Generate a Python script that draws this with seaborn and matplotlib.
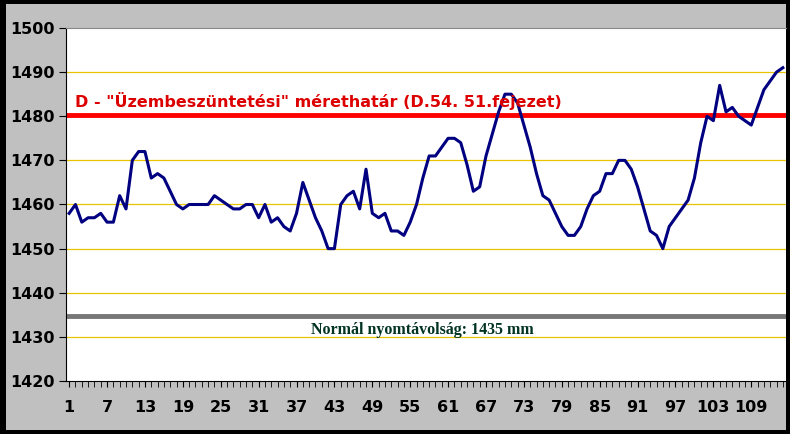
import matplotlib
matplotlib.use("Agg")
import matplotlib.pyplot as plt
import seaborn as sns
import pandas as pd
from matplotlib.patches import Rectangle
from matplotlib.ticker import MultipleLocator

values = [1458,1460,1456,1457,1457,1458,1456,1456,1462,1459,1470,1472,1472,1466,1467,1466,1463,1460,1459,1460,
          1460,1460,1460,1462,1461,1460,1459,1459,1460,1460,1457,1460,1456,1457,1455,1454,1458,1465,1461,1457,
          1454,1450,1450,1460,1462,1463,1459,1468,1458,1457,1458,1454,1454,1453,1456,1460,1466,1471,1471,1473,
          1475,1475,1474,1469,1463,1464,1471,1476,1481,1485,1485,1483,1478,1473,1467,1462,1461,1458,1455,1453,
          1453,1455,1459,1462,1463,1467,1467,1470,1470,1468,1464,1459,1454,1453,1450,1455,1457,1459,1461,1466,
          1474,1480,1479,1487,1481,1482,1480,1479,1478,1482,1486,1488,1490,1491]
positions = list(range(1, len(values) + 1))
x_ticks = list(range(1, 110, 6))
limit_value = 1480.3
normal_value = 1434.7
limit_label = 'D - "Üzembeszüntetési" mérethatár (D.54. 51.fejezet)'
normal_label = "Normál nyomtávolság: 1435 mm"

df = pd.DataFrame({"x": positions, "y": values})

fig = plt.figure(figsize=(7.9, 4.34), dpi=100, facecolor="black")
fig.patches.append(Rectangle((6/790, 4/434), 780/790, 426/434, transform=fig.transFigure,
                             facecolor="#c0c0c0", edgecolor="none", zorder=-5))
ax = fig.add_axes([66/790, 1 - 381/434, 720/790, 353/434])
ax.set_zorder(1)
ax.set_facecolor("white")
ax.set_xlim(0.5, 114.5)
ax.set_ylim(1420, 1500)
ax.set_yticks(range(1420, 1501, 10))
ax.set_xticks(x_ticks)
ax.xaxis.set_minor_locator(MultipleLocator(1))
for y in range(1430, 1500, 10):
    ax.axhline(y, color="#e8c400", lw=0.9, zorder=1)
ax.axhline(limit_value, color="#ff0000", lw=3.5, zorder=2)
ax.axhline(normal_value, color="#777777", lw=3.5, zorder=2)
sns.lineplot(data=df, x="x", y="y", ax=ax, color="#000080", lw=2.2, zorder=3)
ax.text(2, 1482.2, limit_label, color="#dd0000", fontsize=11.5, fontweight="bold", family="DejaVu Sans")
ax.text(57, 1431.5, normal_label, color="#003322", fontsize=11.5, fontweight="bold",
        family="Liberation Serif", ha="center", va="center")
ax.set_xlabel("")
ax.set_ylabel("")
ax.spines["right"].set_visible(False)
ax.spines["top"].set_color("#888888")
for s in ["left", "bottom"]:
    ax.spines[s].set_color("black")
ax.tick_params(axis="both", labelsize=11.5, colors="black", length=5)
ax.tick_params(axis="x", which="minor", length=4)
ax.tick_params(axis="x", which="major", length=4, pad=10)
for t in ax.get_xticklabels() + ax.get_yticklabels():
    t.set_fontweight("bold")
fig.savefig("out.png", dpi=100, facecolor=fig.get_facecolor())
